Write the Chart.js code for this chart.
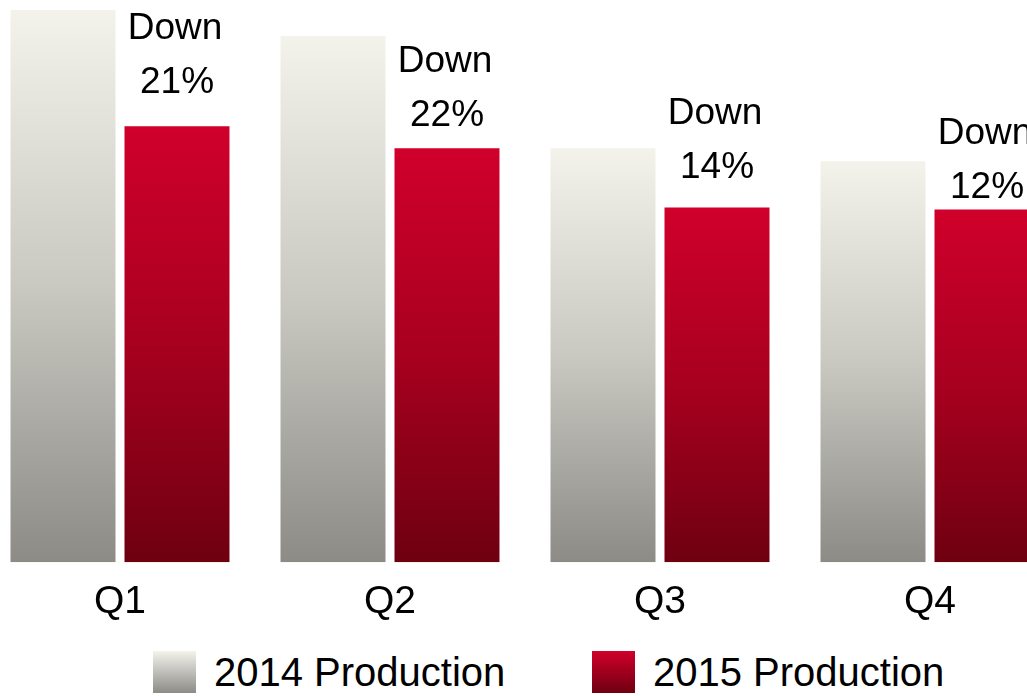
<!DOCTYPE html>
<html>
<head>
<meta charset="utf-8">
<script src="https://cdn.jsdelivr.net/npm/chart.js@4.4.1/dist/chart.umd.min.js"></script>
<style>
    html, body { margin: 0; padding: 0; background: #fff; }
    body { width: 1027px; height: 696px; overflow: hidden; position: relative; font-family: "Liberation Sans", Arial, sans-serif; }
    #wrap { position: absolute; left: -15.5px; top: 0; width: 1080px; height: 643px; }
    .key { position: absolute; top: 651px; width: 43px; height: 42px; }
    .key.grey { left: 153px; background: linear-gradient(#f3f3ec, #8c8b86); }
    .key.red { left: 592px; background: linear-gradient(#d0002b, #6e0010); }
    .keytext { position: absolute; top: 649px; font-size: 40px; line-height: 46px; color: #000; white-space: nowrap; }
</style>
</head>
<body>
<div id="wrap"><canvas id="chart" width="1080" height="643"></canvas></div>
<div class="key grey"></div><div class="keytext" style="left:214px">2014 Production</div>
<div class="key red"></div><div class="keytext" style="left:653px">2015 Production</div>
<script>
const quarters = ["Q1", "Q2", "Q3", "Q4"]
const production2014 = [551, 525, 413, 400]
const production2015 = [435, 413, 354, 352]
const pctDown = [21, 22, 14, 12]

// colour stops for each bar, top -> bottom
const greyStops = ["#f3f3ec", "#c9c9c2", "#8c8b86"]
const redStops = ["#d0002b", "#a8001f", "#6e0010"]

const barGradient = (stops) => (ctx) => {
    if (ctx.type !== 'data') return stops[0]
    const chart = ctx.chart
    if (!chart.chartArea) return stops[0]
    const y = chart.scales.y
    const top = y.getPixelForValue(ctx.raw)
    const bottom = y.getPixelForValue(0)
    const g = chart.ctx.createLinearGradient(0, top, 0, bottom)
    g.addColorStop(0, stops[0])
    g.addColorStop(0.5, stops[1])
    g.addColorStop(1, stops[2])
    return g
}

// label gap (px) between red bar top and the percent line, as placed in the original
const labelGap = [43, 33, 40, 22]

const downLabels = {
    id: 'downLabels',
    afterDatasetsDraw(chart) {
        const meta = chart.getDatasetMeta(1)
        const c = chart.ctx
        c.save()
        c.font = '37px "Liberation Sans", Arial, sans-serif'
        c.fillStyle = '#000'
        c.textAlign = 'center'
        c.textBaseline = 'middle'
        meta.data.forEach((bar, i) => {
            const yPct = bar.y - labelGap[i]
            c.fillText("Down", bar.x - 2, yPct - 54)
            c.fillText(pctDown[i] + "%", bar.x, yPct)
        })
        c.restore()
    }
}

const config = {
    type: 'bar',
    data: {
        labels: quarters,
        datasets: [
            {
                label: "2014 Production",
                data: production2014,
                backgroundColor: barGradient(greyStops),
                borderWidth: 0
            },
            {
                label: "2015 Production",
                data: production2015,
                backgroundColor: barGradient(redStops),
                borderWidth: 0
            }
        ]
    },
    options: {
        responsive: false,
        animation: false,
        devicePixelRatio: 1,
        layout: { padding: 0 },
        datasets: {
            bar: { categoryPercentage: 0.8444, barPercentage: 0.921 }
        },
        plugins: {
            legend: { display: false },
            tooltip: { enabled: false }
        },
        scales: {
            x: {
                grid: { display: false, drawTicks: false },
                border: { display: false },
                ticks: {
                    color: '#000',
                    padding: 17,
                    font: { family: '"Liberation Sans", Arial, sans-serif', size: 39, lineHeight: 1.2 }
                }
            },
            y: {
                display: false,
                min: 0,
                max: 561
            }
        }
    },
    plugins: [downLabels]
}

const myChart = new Chart(document.getElementById('chart'), config)
</script>
</body>
</html>
